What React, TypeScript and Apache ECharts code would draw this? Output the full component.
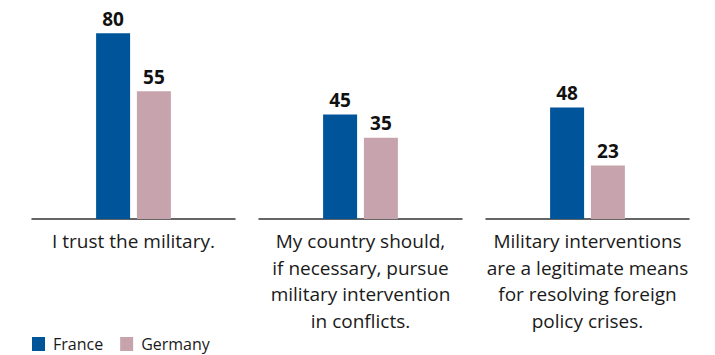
import React, { useEffect, useRef } from "react";
import * as echarts from "echarts";

const categories = [
  "I trust the military.",
  "My country should,\nif necessary, pursue\nmilitary intervention\nin conflicts.",
  "Military interventions\nare a legitimate means\nfor resolving foreign\npolicy crises.",
];
const france = [80, 45, 48];
const germany = [55, 35, 23];
const seriesNames = ["France", "Germany"];

const COLORS = ["#00549A", "#C7A4AD"];
const FONT = "Open Sans";

export default function App() {
  const ref = useRef<HTMLDivElement>(null);
  useEffect(() => {
    if (!ref.current) return;
    const chart = echarts.init(ref.current, null, { renderer: "svg" });
    const groupLeft = 32;
    const groupWidth = 203;
    const groupStep = 227;
    const grids = categories.map((_, i) => ({
      left: groupLeft + groupStep * i,
      width: groupWidth,
      top: 10,
      bottom: 136,
      containLabel: false,
    }));
    const xAxes = categories.map((c, i) => ({
      type: "category",
      gridIndex: i,
      data: [c],
      axisLine: { show: true, lineStyle: { color: "#333", width: 1.5 } },
      axisTick: { show: false },
      axisLabel: {
        interval: 0,
        margin: 9,
        color: "#1a1a1a",
        fontFamily: FONT,
        fontSize: 19,
        lineHeight: 26.5,
        align: "center",
        verticalAlign: "top",
      },
    }));
    const yAxes = categories.map((_, i) => ({
      type: "value",
      gridIndex: i,
      min: 0,
      max: 90,
      show: false,
      splitLine: { show: false },
    }));
    const series: any[] = [];
    categories.forEach((_, i) => {
      [france, germany].forEach((arr, s) => {
        series.push({
          type: "bar",
          name: seriesNames[s],
          xAxisIndex: i,
          yAxisIndex: i,
          data: [arr[i]],
          barWidth: 34,
          barGap: "20%",
          itemStyle: { color: COLORS[s] },
          label: {
            show: true,
            position: "top",
            distance: 5,
            color: "#111",
            fontFamily: FONT,
            fontWeight: "bold",
            fontSize: 19,
          },
        });
      });
    });
    chart.setOption({
      animation: false,
      color: COLORS,
      grid: grids,
      xAxis: xAxes,
      yAxis: yAxes,
      legend: {
        data: seriesNames,
        left: 32,
        top: 336,
        padding: 0,
        icon: "rect",
        itemWidth: 13,
        itemHeight: 14,
        itemGap: 17,
        textStyle: {
          color: "#1a1a1a",
          fontFamily: FONT,
          fontSize: 16,
          lineHeight: 14,
          padding: [0, 0, 0, 3],
        },
      },
      series,
    });
    return () => chart.dispose();
  }, []);
  return <div ref={ref} style={{ width: 715, height: 355, position: "absolute", left: 0, top: 0 }} />;
}
